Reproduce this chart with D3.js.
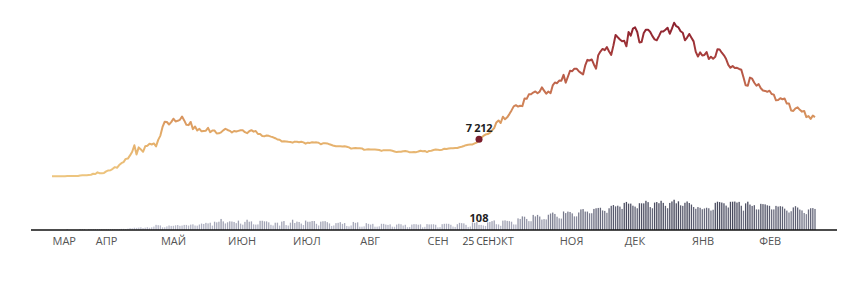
<!DOCTYPE html>
<html lang="ru">
<head>
  <meta charset="UTF-8"/>
  <title>Коронавирус в России</title>
  <script src="https://d3js.org/d3.v7.min.js"></script>
  <style>
    body { margin: 0; background: #fff; }
    text { font-family: "Open Sans", sans-serif; }
  </style>
</head>
<body>
<svg id="chart"></svg>
<script>
  // first day of the series, one value per day after that
  var startDate = new Date(2020, 2, 12);
  var markDate = new Date(2020, 8, 25);
  var markLabel = "25 СЕН";

  var monthLabels = ["МАР", "АПР", "МАЙ", "ИЮН", "ИЮЛ", "АВГ", "СЕН", "ОКТ", "НОЯ", "ДЕК", "ЯНВ", "ФЕВ"];

  // new cases per day
  var cases = [
    6, 11, 14, 4, 30, 21, 33, 52, 54, 53, 61, 71, 57, 163, 182, 196, 228, 270, 302, 500,
    440, 771, 601, 582, 658, 954, 1154, 1175, 1459, 1786, 1667, 2186, 2558, 2774, 3388, 3448, 4070, 4785, 6060, 4268,
    5642, 5236, 4774, 5849, 5966, 6361, 6198, 6411, 5841, 7099,
    7933, 9623, 10633, 10581, 10102, 10559, 11231, 10699, 10817, 11012, 11656, 10899, 10028, 9974, 10598, 9200,
    9709, 8926, 9263, 8764, 8849, 8894, 9434, 8599, 8946, 8915, 8338, 8371, 8572, 8952, 9268,
    9035, 8863, 8536, 8831, 8726, 8855, 8984, 8985, 8595, 8404, 8779, 8987, 8706, 8835, 8246, 8248, 7843, 7790,
    7972, 7889, 7728, 7600, 7425, 7176, 7113, 6800, 6852, 6791, 6719, 6693,
    6556, 6760, 6718, 6632, 6736, 6611, 6368, 6562, 6509, 6635, 6611, 6615, 6537, 6248, 6422, 6428, 6406, 6234,
    6109, 5940, 5842, 5862, 5848, 5811, 5871, 5765, 5635, 5395, 5475, 5509, 5482,
    5462, 5427, 5159, 5204, 5267, 5241, 5212, 5241, 5189, 5118, 4945, 5102, 5057, 5065, 5061, 4969, 4839, 4718,
    4790, 4767, 4870, 4921, 4852, 4676, 4696, 4729, 4711, 4829, 4980, 4897, 4941,
    4729, 4952, 4995, 5110, 5205, 5195, 5099, 5185, 5363, 5310, 5406, 5488, 5449, 5509, 5529, 5670, 5762, 5905,
    6065, 6148, 6196, 6215, 6431, 6595, 7212, 7523, 7867, 8135, 8232, 8481,
    8945, 9412, 10499, 10888, 10390, 11615, 11115, 11493, 12126, 12846, 13634, 13868, 13592, 13754, 13678, 15150,
    15099, 15982, 15982, 16319, 16550, 16203, 16516, 17340, 16710, 16106, 16520, 16202, 17717, 18283, 18140,
    18665, 18648, 19768, 18257, 19405, 20582, 20498, 20986, 20977, 20488, 20156, 19851, 21608, 22702, 22572,
    22778, 21798, 20977, 23610, 24318, 24822, 24581, 25173, 24326, 23675, 25487, 27543, 27100, 26683, 26338,
    26402, 25345, 28145, 27403, 28782, 29039, 28137, 26097, 26190, 27927, 28585, 28585, 28137, 27328, 26689, 26509,
    27328, 28214, 28209, 28552, 28948, 27787, 28776, 29935, 29258, 29018, 28284, 27977, 26513, 27039, 27747,
    27029, 26301, 24246, 23351, 24150, 23541, 23652, 24217, 22851, 23309, 22934, 23315, 24763, 24715, 24092, 23586,
    22857, 21734, 21152, 21513, 21127, 21152, 20921, 20765, 19290, 17741, 17648, 19238, 19032, 18241, 17648,
    17965, 17163, 16714, 16643, 16474, 16688, 16048, 15916, 14803, 14861, 15210, 15026, 15152, 14185,
    14207, 12828, 12742, 13233, 13433, 12953, 12604, 12742, 11534, 11749, 11198, 11823, 11534
  ];

  // deaths per day
  var deaths = [
    0, 0, 0, 0, 0, 0, 0, 1, 0, 0, 0, 0, 0, 1, 1, 1, 0, 3, 1, 9,
    7, 2, 4, 4, 2, 2, 11, 13, 13, 18, 12, 12, 24, 24, 18, 28, 41, 36, 48, 45, 51, 57, 42, 50, 60, 47, 57, 72, 108, 101,
    96, 57, 58, 76, 95, 86, 88, 98, 104, 88, 94, 107, 107, 93, 113, 119, 94, 91, 115, 135,
    127, 150, 139, 153, 92, 174, 161, 174, 232, 181, 138,
    162, 182, 178, 169, 144, 197, 134, 112, 171, 216, 174, 181, 119, 113, 117, 193, 194, 182, 181, 161,
    109, 95, 153, 154, 92, 176, 188, 104, 93, 154,
    216, 147, 176, 168, 135, 104, 198, 173, 174, 188, 188, 130, 95, 175, 183, 186, 165, 138, 85, 95,
    144, 150, 165, 129, 146, 85, 76, 95, 169, 150, 161,
    70, 70, 77, 144, 129, 114, 129, 70, 70, 77, 130, 129, 114, 107, 119, 70, 68, 114, 130, 121,
    94, 110, 60, 64, 114, 123, 121, 111, 119, 57, 67,
    123, 117, 119, 121, 110, 56, 61, 122, 130, 132, 129, 110, 73, 65, 122, 150, 144, 139, 108, 64,
    73, 160, 150, 169, 108, 107, 95, 85, 160, 169,
    186, 201, 121, 117, 88, 197, 202, 191, 186, 174, 117, 115, 244, 232, 286, 279, 232, 186, 184, 317,
    286, 317, 283, 219, 229, 222, 320, 346, 366, 337, 279,
    245, 239, 389, 355, 386, 378, 349, 286, 286, 368, 432, 439, 387, 387, 351, 352, 442, 456, 463, 467,
    411, 401, 361, 456, 507, 524, 496, 510, 491, 442,
    569, 589, 554, 554, 510, 491, 456, 562, 560, 559, 613, 585, 481, 456, 575, 587, 562, 613, 569, 507,
    457, 568, 599, 635, 560, 602, 518, 507, 571, 599, 567,
    534, 482, 445, 481, 466, 436, 452, 467, 456, 408, 425, 570, 594, 586, 576, 561, 512, 472, 592, 594,
    597, 576, 590, 509, 406, 559, 594, 534, 505, 521, 432,
    431, 549, 543, 538, 518, 507, 432, 432, 506, 492, 500, 491, 448, 407, 367, 394, 474, 500, 472, 429,
    411, 357, 333, 431, 457, 460, 442
  ];

  var width = 863, height = 298;
  var baseY = 230;

  var data = cases.map(function(c, i) {
    return { date: d3.timeDay.offset(startDate, i), cases: c, deaths: deaths[i] };
  });
  var endDate = data[data.length - 1].date;

  var svg = d3.select("#chart").attr("width", width).attr("height", height);

  var x = d3.scaleTime().domain([startDate, endDate]).range([52, 815]);
  var y = d3.scaleLinear().domain([0, 30000]).range([176.3, 22.4]);
  var yBar = d3.scaleLinear().domain([0, 640]).range([baseY, 199.5]);

  var lineColor = d3.scaleLinear()
    .domain([0, 8000, 16000, 24000, 30000])
    .range(["#edc57f", "#e3ac68", "#c97552", "#a53b3b", "#8a1f2d"]);
  var barColor = d3.scaleLinear().domain([0, 640]).range(["#c9cbdb", "#3d3f53"]);

  // vertical gradient so the line darkens with the value
  var grad = svg.append("defs").append("linearGradient")
    .attr("id", "lineGrad")
    .attr("gradientUnits", "userSpaceOnUse")
    .attr("x1", 0).attr("x2", 0)
    .attr("y1", y(0)).attr("y2", y(30000));
  d3.range(0, 30001, 2000).forEach(function(v) {
    grad.append("stop").attr("offset", v / 30000).attr("stop-color", lineColor(v));
  });

  // death bars
  var step = x(d3.timeDay.offset(startDate, 1)) - x(startDate);
  var barW = step * 0.6;
  svg.append("g").selectAll("rect")
    .data(data.filter(function(d) { return d.deaths > 0; }))
    .enter().append("rect")
    .attr("x", function(d) { return x(d.date) - barW / 2; })
    .attr("width", barW)
    .attr("y", function(d) { return Math.min(yBar(d.deaths), baseY - 1); })
    .attr("height", function(d) { return Math.max(baseY - yBar(d.deaths), 1); })
    .attr("fill", function(d) { return barColor(d.deaths); });

  // case line
  var line = d3.line()
    .x(function(d) { return x(d.date); })
    .y(function(d) { return y(d.cases); });

  svg.append("path")
    .datum(data)
    .attr("d", line)
    .attr("fill", "none")
    .attr("stroke", "url(#lineGrad)")
    .attr("stroke-width", 2)
    .attr("stroke-linejoin", "round");

  // month axis
  var ticks = [startDate].concat(d3.timeMonth.range(new Date(2020, 3, 1), endDate));
  var axis = d3.axisBottom(x)
    .tickValues(ticks)
    .tickSize(0)
    .tickPadding(7)
    .tickFormat(function(d, i) { return monthLabels[i]; });

  var gAxis = svg.append("g")
    .attr("transform", "translate(0," + baseY + ")")
    .call(axis);
  gAxis.select(".domain").remove();
  gAxis.selectAll("text")
    .attr("text-anchor", "start")
    .attr("font-family", "Open Sans, sans-serif")
    .attr("font-size", 11)
    .attr("fill", "#555");

  svg.append("line")
    .attr("x1", 31).attr("x2", 837)
    .attr("y1", baseY).attr("y2", baseY)
    .attr("stroke", "#111")
    .attr("stroke-width", 1.5);

  // highlighted day
  var mark = data[d3.timeDay.count(startDate, markDate)];
  var mx = x(mark.date);

  var labelBox = svg.append("rect").attr("fill", "#fff");
  var dateLabel = svg.append("text")
    .attr("x", mx).attr("y", 245)
    .attr("text-anchor", "middle")
    .attr("font-size", 10.5)
    .attr("letter-spacing", -0.3)
    .attr("fill", "#444")
    .text(markLabel);
  var bb = dateLabel.node().getBBox();
  labelBox
    .attr("x", bb.x - 2).attr("y", bb.y)
    .attr("width", bb.width + 3).attr("height", bb.height);

  svg.append("text")
    .attr("x", mx).attr("y", yBar(mark.deaths) - 3)
    .attr("text-anchor", "middle")
    .attr("font-size", 11)
    .attr("font-weight", "bold")
    .attr("fill", "#222")
    .text(mark.deaths);

  svg.append("circle")
    .attr("cx", mx).attr("cy", y(mark.cases))
    .attr("r", 3.5)
    .attr("fill", "#7b1d2b");

  svg.append("text")
    .attr("x", mx).attr("y", y(mark.cases) - 7)
    .attr("text-anchor", "middle")
    .attr("font-size", 11)
    .attr("font-weight", "bold")
    .attr("letter-spacing", -0.3)
    .attr("fill", "#222")
    .text(d3.format(",")(mark.cases).replace(",", " "));
</script>
</body>
</html>
